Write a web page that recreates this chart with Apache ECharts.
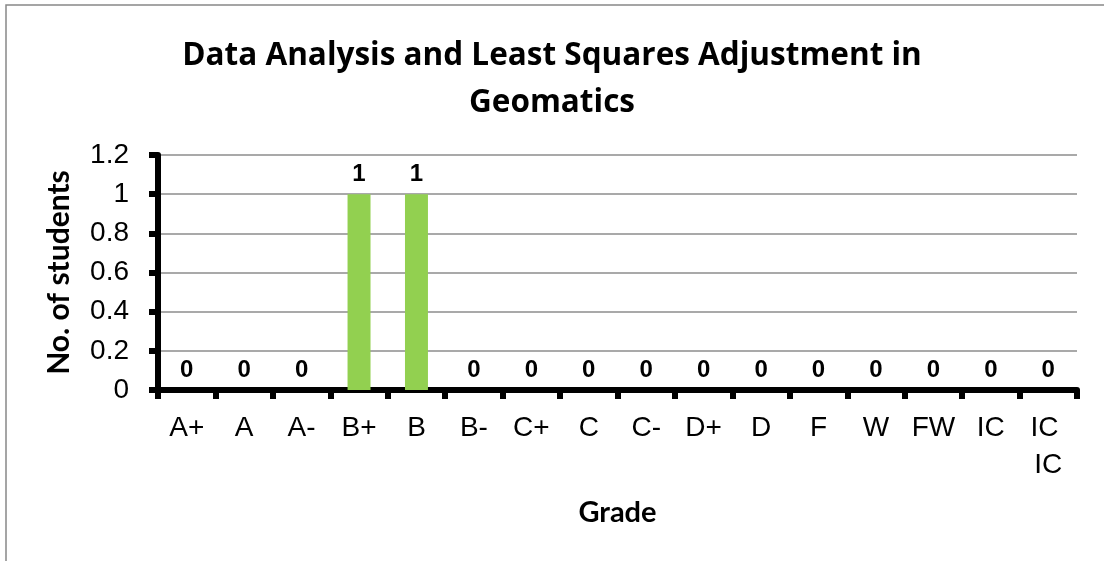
<!DOCTYPE html>
<html>
<head>
<meta charset="utf-8">
<script src="https://cdn.jsdelivr.net/npm/echarts@6/dist/echarts.min.js"></script>
<style>
html,body{margin:0;padding:0;background:#fff;}
#chart{width:1104px;height:561px;}
</style>
</head>
<body>
<div id="chart"></div>
<script>
const titleText = 'Data Analysis and Least Squares Adjustment in\nGeomatics';
const categories = ['A+','A','A-','B+','B','B-','C+','C','C-','D+','D','F','W','FW','IC','IC IC'];
const students = [0,0,0,1,1,0,0,0,0,0,0,0,0,0,0,0];
const yTicks = { min: 0, max: 1.2, interval: 0.2 };

const chart = echarts.init(document.getElementById('chart'), null, {renderer:'canvas'});
const armFont = '"Liberation Sans", Arial, sans-serif';
const calFont = 'Lato, "Open Sans", sans-serif';
const titleFont = '"Open Sans", Lato, sans-serif';
chart.setOption({
  backgroundColor: '#ffffff',
  animation: false,
  graphic: [{
    type: 'rect', silent: true, z: -1,
    shape: { x: 6, y: 5, width: 1110, height: 600 },
    style: { fill: 'none', stroke: '#888888', lineWidth: 1.5 }
  }],
  title: {
    text: titleText,
    left: 'center',
    top: 28,
    textStyle: { fontFamily: titleFont, fontWeight: 'bold', fontSize: 31.5, lineHeight: 47, color: '#000' }
  },
  grid: { left: 158, right: 27, top: 155, bottom: 171, containLabel: false },
  xAxis: {
    type: 'category',
    data: categories,
    name: 'Grade',
    nameLocation: 'middle',
    nameGap: 108,
    nameTextStyle: { fontFamily: calFont, fontWeight: 'bold', fontSize: 29, color: '#000' },
    axisLine: { show: true, lineStyle: { color: '#000', width: 6 } },
    axisTick: { show: true, length: 9, lineStyle: { color: '#000', width: 6 } },
    axisLabel: {
      interval: 0, margin: 20, color: '#000',
      fontFamily: armFont, fontSize: 28, lineHeight: 37,
      width: 56, overflow: 'break'
    },
    splitLine: { show: false }
  },
  yAxis: {
    type: 'value',
    min: yTicks.min, max: yTicks.max, interval: yTicks.interval,
    name: 'No. of students',
    nameLocation: 'middle',
    nameRotate: 90,
    nameGap: 84,
    nameTextStyle: { fontFamily: calFont, fontWeight: 'bold', fontSize: 30, color: '#000' },
    axisLine: { show: true, lineStyle: { color: '#000', width: 6 } },
    axisTick: { show: true, length: 9, lineStyle: { color: '#000', width: 6 } },
    axisLabel: { margin: 29, color: '#000', fontFamily: armFont, fontSize: 28 },
    splitLine: { show: true, lineStyle: { color: '#8c8c8c', width: 1.5 } }
  },
  series: [{
    type: 'bar',
    data: students,
    barWidth: '40%',
    itemStyle: { color: '#92d050' },
    label: {
      show: true, position: 'top', distance: 8,
      color: '#000', fontFamily: armFont, fontWeight: 'bold', fontSize: 24
    }
  }]
});
</script>
</body>
</html>
